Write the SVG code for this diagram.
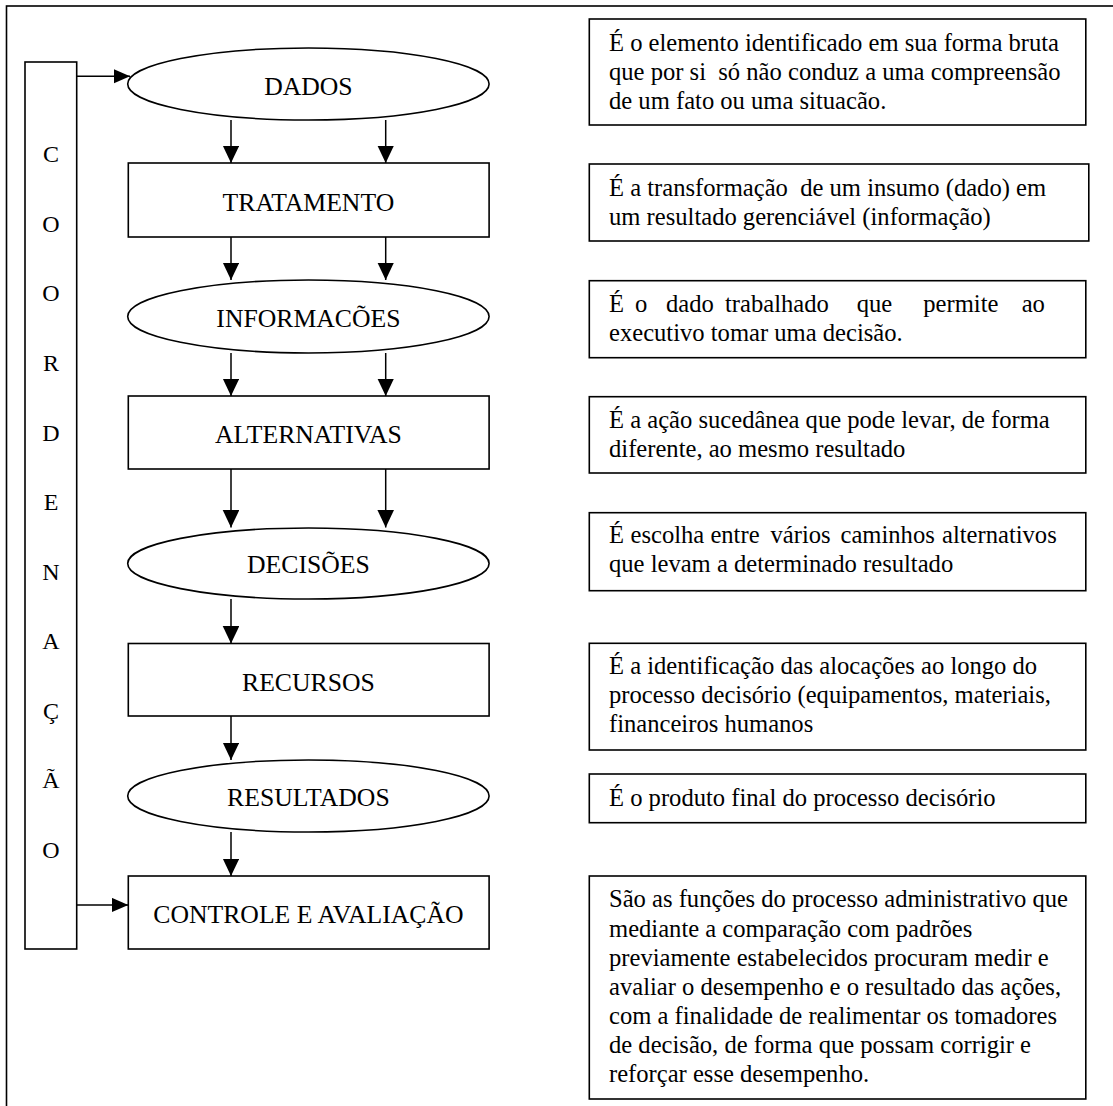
<svg xmlns="http://www.w3.org/2000/svg" width="1113" height="1106" viewBox="0 0 1113 1106">
  <defs>
    <style>
      .shape { fill: #fff; stroke: #000; stroke-width: 1.6; }
      .frame { fill: none; stroke: #000; stroke-width: 1.6; }
      .conn { fill: none; stroke: #000; stroke-width: 1.5; }
      .lbl { font-family: "Liberation Serif", "Times New Roman", serif; font-size: 25.7px; text-anchor: middle; fill: #000; }
      .letter { font-family: "Liberation Serif", "Times New Roman", serif; font-size: 24px; text-anchor: middle; fill: #000; }
      .desc { font-family: "Liberation Serif", "Times New Roman", serif; font-size: 24.6px; fill: #000; }
    </style>
    <!-- downward arrowhead -->
    <marker id="arrowV" markerUnits="userSpaceOnUse" markerWidth="19" markerHeight="18" refX="17.5" refY="8.3" orient="auto">
      <path d="M0,0 L17.5,8.3 L0,16.6 Z" fill="#000"/>
    </marker>
    <!-- rightward arrowhead -->
    <marker id="arrowH" markerUnits="userSpaceOnUse" markerWidth="18" markerHeight="16" refX="16.5" refY="7.2" orient="auto">
      <path d="M0,0 L16.5,7.2 L0,14.4 Z" fill="#000"/>
    </marker>
  </defs>

  <rect x="0" y="0" width="1113" height="1106" fill="#fff"/>

  <!-- outer frame, open to the right and bottom -->
  <g id="frame">
    <rect class="frame" x="6.5" y="6" width="1200" height="1200"/>
  </g>

  <!-- vertical coordination bar -->
  <g id="coordenacao">
    <rect class="shape" x="25" y="62" width="51.7" height="887"/>
    <text class="letter" x="51" y="162.3">C</text>
    <text class="letter" x="51" y="231.9">O</text>
    <text class="letter" x="51" y="301.4">O</text>
    <text class="letter" x="51" y="371">R</text>
    <text class="letter" x="51" y="440.5">D</text>
    <text class="letter" x="51" y="510">E</text>
    <text class="letter" x="51" y="579.6">N</text>
    <text class="letter" x="51" y="649.2">A</text>
    <text class="letter" x="51" y="718.7">Ç</text>
    <text class="letter" x="51" y="788.3">Ã</text>
    <text class="letter" x="51" y="857.8">O</text>
  </g>

  <!-- process steps -->
  <g id="dados">
    <ellipse class="shape" cx="308.4" cy="84" rx="180.7" ry="36"/>
    <text class="lbl" x="308.4" y="95">DADOS</text>
  </g>
  <g id="tratamento">
    <rect class="shape" x="128.3" y="163" width="360.8" height="74"/>
    <text class="lbl" x="308.4" y="211">TRATAMENTO</text>
  </g>
  <g id="informacoes">
    <ellipse class="shape" cx="308.4" cy="316.5" rx="180.7" ry="36.5"/>
    <text class="lbl" x="308.4" y="327">INFORMACÕES</text>
  </g>
  <g id="alternativas">
    <rect class="shape" x="128.3" y="396" width="360.8" height="73"/>
    <text class="lbl" x="308.4" y="443">ALTERNATIVAS</text>
  </g>
  <g id="decisoes">
    <ellipse class="shape" cx="308.4" cy="563.5" rx="180.7" ry="35.5"/>
    <text class="lbl" x="308.4" y="573">DECISÕES</text>
  </g>
  <g id="recursos">
    <rect class="shape" x="128.3" y="643.5" width="360.8" height="72.5"/>
    <text class="lbl" x="308.4" y="691">RECURSOS</text>
  </g>
  <g id="resultados">
    <ellipse class="shape" cx="308.4" cy="796" rx="180.7" ry="36"/>
    <text class="lbl" x="308.4" y="806">RESULTADOS</text>
  </g>
  <g id="controle">
    <rect class="shape" x="128.3" y="876" width="360.8" height="73"/>
    <text class="lbl" x="308.4" y="923">CONTROLE E AVALIAÇÃO</text>
  </g>

  <!-- connectors -->
  <g id="connectors">
    <path class="conn" d="M76.7,76.3 H130" marker-end="url(#arrowH)"/>
    <path class="conn" d="M76.7,905 H128.3" marker-end="url(#arrowH)"/>
    <path class="conn" d="M231,120 V163" marker-end="url(#arrowV)"/>
    <path class="conn" d="M385.7,120 V163" marker-end="url(#arrowV)"/>
    <path class="conn" d="M231,237 V280" marker-end="url(#arrowV)"/>
    <path class="conn" d="M385.7,237 V280" marker-end="url(#arrowV)"/>
    <path class="conn" d="M231,353 V396" marker-end="url(#arrowV)"/>
    <path class="conn" d="M385.7,353 V396" marker-end="url(#arrowV)"/>
    <path class="conn" d="M231,469 V527.5" marker-end="url(#arrowV)"/>
    <path class="conn" d="M385.7,469 V527.5" marker-end="url(#arrowV)"/>
    <path class="conn" d="M231,599 V643.5" marker-end="url(#arrowV)"/>
    <path class="conn" d="M231,716 V760" marker-end="url(#arrowV)"/>
    <path class="conn" d="M231,832 V876" marker-end="url(#arrowV)"/>
  </g>

  <!-- definitions column -->
  <g id="def-dados">
    <rect class="shape" x="589.3" y="19" width="496.5" height="106"/>
    <text class="desc" x="609" y="51">É o elemento identificado em sua forma bruta</text>
    <text class="desc" x="609" y="80" xml:space="preserve">que por si  só não conduz a uma compreensão</text>
    <text class="desc" x="609" y="108.5">de um fato ou uma situacão.</text>
  </g>
  <g id="def-tratamento">
    <rect class="shape" x="589.3" y="164" width="499.5" height="77"/>
    <text class="desc" x="609" y="195.5" xml:space="preserve">É a transformação  de um insumo (dado) em</text>
    <text class="desc" x="609" y="225">um resultado gerenciável (informação)</text>
  </g>
  <g id="def-informacoes">
    <rect class="shape" x="589.3" y="280.7" width="496.5" height="77"/>
    <text class="desc" y="311.7"><tspan x="609">É</tspan><tspan x="635">o</tspan><tspan x="666">dado</tspan><tspan x="725">trabalhado</tspan><tspan x="856.7">que</tspan><tspan x="923.3">permite</tspan><tspan x="1021.7">ao</tspan></text>
    <text class="desc" x="609" y="341">executivo tomar uma decisão.</text>
  </g>
  <g id="def-alternativas">
    <rect class="shape" x="589.3" y="396.7" width="496.5" height="76.3"/>
    <text class="desc" x="609" y="427.7">É a ação sucedânea que pode levar, de forma</text>
    <text class="desc" x="609" y="456.7">diferente, ao mesmo resultado</text>
  </g>
  <g id="def-decisoes">
    <rect class="shape" x="589.3" y="512.7" width="496.5" height="78"/>
    <text class="desc" y="543.3"><tspan x="609">É</tspan><tspan x="630.5">escolha</tspan><tspan x="710.4">entre</tspan><tspan x="770.5">vários</tspan><tspan x="840.5">caminhos</tspan><tspan x="942">alternativos</tspan></text>
    <text class="desc" x="609" y="572.3">que levam a determinado resultado</text>
  </g>
  <g id="def-recursos">
    <rect class="shape" x="589.3" y="643.3" width="496.5" height="106.7"/>
    <text class="desc" x="609" y="674.3">É a identificação das alocações ao longo do</text>
    <text class="desc" x="609" y="703.3">processo decisório (equipamentos, materiais,</text>
    <text class="desc" x="609" y="732.3">financeiros humanos</text>
  </g>
  <g id="def-resultados">
    <rect class="shape" x="589.3" y="774" width="496.5" height="48.7"/>
    <text class="desc" x="609" y="805.7">É o produto final do processo decisório</text>
  </g>
  <g id="def-controle">
    <rect class="shape" x="589.3" y="876" width="496.5" height="223"/>
    <text class="desc" x="609" y="906.7">São as funções do processo administrativo que</text>
    <text class="desc" x="609" y="936.7">mediante a comparação com padrões</text>
    <text class="desc" x="609" y="966">previamente estabelecidos procuram medir e</text>
    <text class="desc" x="609" y="995">avaliar o desempenho e o resultado das ações,</text>
    <text class="desc" x="609" y="1024.3">com a finalidade de realimentar os tomadores</text>
    <text class="desc" x="609" y="1053.3">de decisão, de forma que possam corrigir e</text>
    <text class="desc" x="609" y="1082.3">reforçar esse desempenho.</text>
  </g>
</svg>
